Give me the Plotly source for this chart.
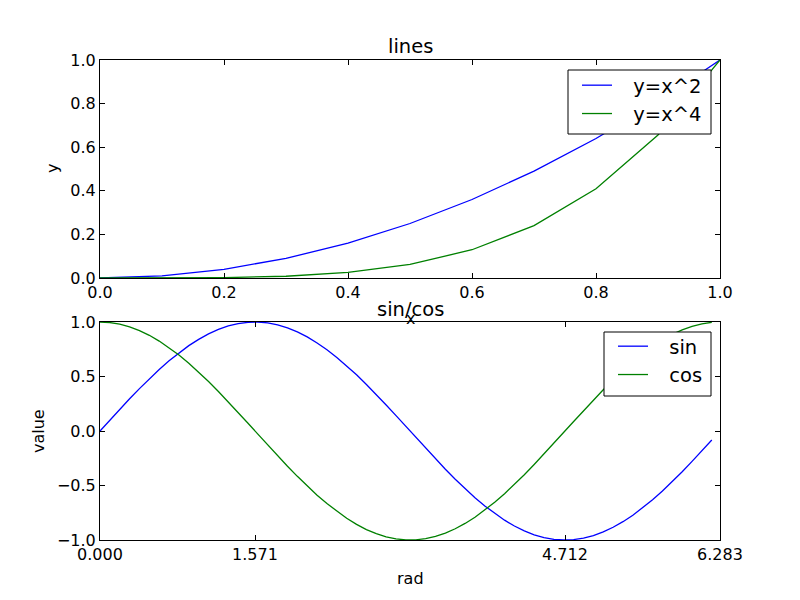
import plotly.graph_objects as go

# ---- data ----
x_lines = [0.0, 0.1, 0.2, 0.3, 0.4, 0.5, 0.6, 0.7, 0.8, 0.9, 1.0]
y_sq = [0.0, 0.01, 0.04, 0.09, 0.16, 0.25, 0.36, 0.49, 0.64, 0.81, 1.0]
y_quad = [0.0, 0.0001, 0.0016, 0.0081, 0.0256, 0.0625, 0.1296, 0.2401, 0.4096, 0.6561, 1.0]

x_rad = [round(0.1 * k, 1) for k in range(63)]
y_sin = [0.000, 0.100, 0.199, 0.296, 0.389, 0.479, 0.565, 0.644, 0.717, 0.783,
         0.841, 0.891, 0.932, 0.964, 0.985, 0.997, 1.000, 0.992, 0.974, 0.946,
         0.909, 0.863, 0.808, 0.746, 0.675, 0.598, 0.516, 0.427, 0.335, 0.239,
         0.141, 0.042, -0.058, -0.158, -0.256, -0.351, -0.443, -0.530, -0.612, -0.688,
         -0.757, -0.818, -0.872, -0.916, -0.952, -0.978, -0.994, -1.000, -0.996, -0.982,
         -0.959, -0.926, -0.883, -0.832, -0.773, -0.706, -0.631, -0.551, -0.465, -0.374,
         -0.279, -0.182, -0.083]
y_cos = [1.000, 0.995, 0.980, 0.955, 0.921, 0.878, 0.825, 0.765, 0.697, 0.622,
         0.540, 0.454, 0.362, 0.267, 0.170, 0.071, -0.029, -0.129, -0.227, -0.323,
         -0.416, -0.505, -0.589, -0.666, -0.737, -0.801, -0.857, -0.904, -0.942, -0.971,
         -0.990, -0.999, -0.998, -0.987, -0.967, -0.936, -0.897, -0.848, -0.791, -0.726,
         -0.654, -0.575, -0.490, -0.401, -0.307, -0.211, -0.112, -0.012, 0.087, 0.187,
         0.284, 0.378, 0.469, 0.554, 0.635, 0.709, 0.776, 0.835, 0.886, 0.927,
         0.960, 0.983, 0.997]

series_names = ["y=x^2", "y=x^4", "sin", "cos"]
top_ticks = [0.0, 0.2, 0.4, 0.6, 0.8, 1.0]
rad_ticks = [0.0, 1.5708, 4.7124, 6.2832]
rad_ticktext = ["0.000", "1.571", "4.712", "6.283"]
value_ticks = [-1.0, -0.5, 0.0, 0.5, 1.0]

BLUE = "#0000ff"
GREEN = "#008000"
FONT = "DejaVu Sans"
LW = 1.3
PAD = "\u00a0\u00a0\u2009"  # gap between legend line and label (matplotlib-like)

fig = go.Figure()
fig.add_trace(go.Scatter(x=x_lines, y=y_sq, mode="lines", name=PAD + series_names[0],
                         line=dict(color=BLUE, width=LW), xaxis="x", yaxis="y", legend="legend"))
fig.add_trace(go.Scatter(x=x_lines, y=y_quad, mode="lines", name=PAD + series_names[1],
                         line=dict(color=GREEN, width=LW), xaxis="x", yaxis="y", legend="legend"))
fig.add_trace(go.Scatter(x=x_rad, y=y_sin, mode="lines", name=PAD + series_names[2],
                         line=dict(color=BLUE, width=LW), xaxis="x2", yaxis="y2", legend="legend2"))
fig.add_trace(go.Scatter(x=x_rad, y=y_cos, mode="lines", name=PAD + series_names[3],
                         line=dict(color=GREEN, width=LW), xaxis="x2", yaxis="y2", legend="legend2"))

ax_common = dict(showgrid=False, zeroline=False, showline=True, linecolor="black", linewidth=1,
                 mirror="allticks", ticks="inside", ticklen=5, tickcolor="black", tickwidth=1,
                 tickfont=dict(family=FONT, size=16, color="black"))

def px_x(px):
    return (px - 100) / 620

def px_y(py):
    return (540 - py) / 480

top_y0 = px_y(278)
bot_y1 = px_y(322)

legend_common = dict(xanchor="left", yanchor="top", borderwidth=0, bgcolor="rgba(0,0,0,0)",
                     font=dict(family=FONT, size=19.5, color="black"), tracegroupgap=0,
                     itemwidth=30)

fig.update_layout(
    width=800, height=600,
    margin=dict(l=100, r=80, t=60, b=60),
    paper_bgcolor="white", plot_bgcolor="white",
    font=dict(family=FONT, color="black"),
    xaxis=dict(domain=[0, 1], anchor="y", range=[0, 1], tickvals=top_ticks, tickformat=".1f", **ax_common),
    yaxis=dict(domain=[top_y0, 1], anchor="x", range=[0, 1], tickvals=top_ticks, tickformat=".1f", **ax_common),
    xaxis2=dict(domain=[0, 1], anchor="y2", range=[0, 6.2832], tickvals=rad_ticks, ticktext=rad_ticktext, **ax_common),
    yaxis2=dict(domain=[0, bot_y1], anchor="x2", range=[-1, 1], tickvals=value_ticks, tickformat=".1f", **ax_common),
    legend=dict(x=px_x(577), y=px_y(66), **legend_common),
    legend2=dict(x=px_x(613), y=px_y(327), **legend_common),
    showlegend=True,
)

# legend frames (matplotlib-style boxes)
for (l, r, t, b) in [(568, 711, 70, 134), (604, 711, 332, 396)]:
    fig.add_shape(type="rect", xref="paper", yref="paper",
                  x0=px_x(l), x1=px_x(r), y0=px_y(b), y1=px_y(t),
                  line=dict(color="black", width=1), fillcolor="white", layer="above")

annots = [
    dict(text="lines", x=0.5, y=px_y(46), size=19.5, angle=0),
    dict(text="x", x=0.5, y=px_y(318), size=16, angle=0),
    dict(text="sin/cos", x=0.5, y=px_y(309), size=19.5, angle=0),
    dict(text="rad", x=0.5, y=px_y(578), size=16, angle=0),
    dict(text="y", x=px_x(52), y=px_y(169), size=16, angle=-90),
    dict(text="value", x=px_x(38), y=px_y(431), size=16, angle=-90),
]
for a in annots:
    fig.add_annotation(text=a["text"], x=a["x"], y=a["y"], xref="paper", yref="paper",
                       xanchor="center", yanchor="middle", showarrow=False, textangle=a["angle"],
                       font=dict(family=FONT, size=a["size"], color="black"))

fig.write_html("out.html")
